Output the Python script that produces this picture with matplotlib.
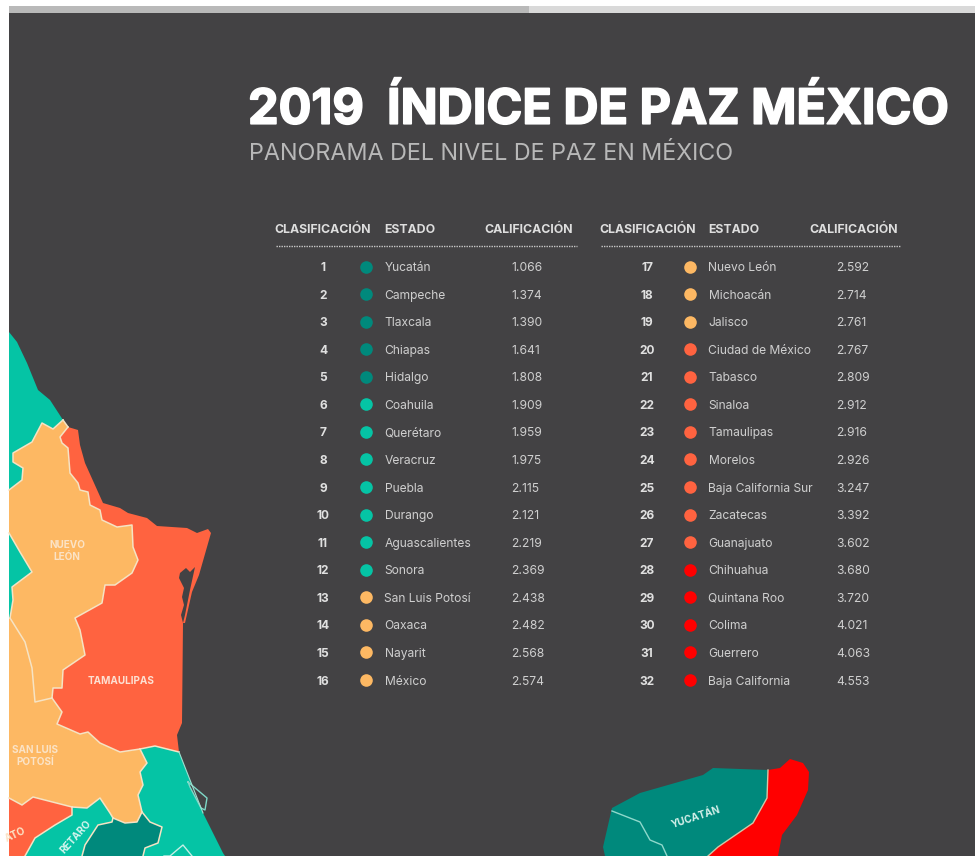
import matplotlib
matplotlib.use("Agg")
import matplotlib.pyplot as plt
import matplotlib.patheffects as pe
from matplotlib.patches import Polygon, Rectangle

# ---- data ----
TITLE = "2019  ÍNDICE DE PAZ MÉXICO"
SUBTITLE = "PANORAMA DEL NIVEL DE PAZ EN MÉXICO"
HEADERS = ["CLASIFICACIÓN", "ESTADO", "CALIFICACIÓN"]
ranks = list(range(1, 33))
states = ["Yucatán", "Campeche", "Tlaxcala", "Chiapas", "Hidalgo", "Coahuila", "Querétaro", "Veracruz",
          "Puebla", "Durango", "Aguascalientes", "Sonora", "San Luis Potosí", "Oaxaca", "Nayarit", "México",
          "Nuevo León", "Michoacán", "Jalisco", "Ciudad de México", "Tabasco", "Sinaloa", "Tamaulipas", "Morelos",
          "Baja California Sur", "Zacatecas", "Guanajuato", "Chihuahua", "Quintana Roo", "Colima", "Guerrero",
          "Baja California"]
scores = ["1.066", "1.374", "1.390", "1.641", "1.808", "1.909", "1.959", "1.975",
          "2.115", "2.121", "2.219", "2.369", "2.438", "2.482", "2.568", "2.574",
          "2.592", "2.714", "2.761", "2.767", "2.809", "2.912", "2.916", "2.926",
          "3.247", "3.392", "3.602", "3.680", "3.720", "4.021", "4.063", "4.553"]
levels = [0]*5 + [1]*7 + [2]*7 + [3]*8 + [4]*5

BG = "#434244"
LEVEL_COLORS = ["#00897c", "#05c4a5", "#fdb863", "#ff6340", "#ff0000"]
BORDER = "#f6e3c4"
TXT = "#cfcfcf"

# map outlines (decorative geography, in image pixels)
nl_tam = [(68,427),(60,437),(62,443),(68,448),(70,473),(78,483),(80,490),(88,492),(90,505),(100,510),(102,520),
          (117,527),(132,525),(133,547),(138,560),(132,573),(115,585),(105,585),(102,603),(75,618),(80,630),(85,655),
          (63,670),(62,688),(53,688),(52,698)]
tam_slp = [(52,698),(62,712),(57,724),(80,734),(88,732),(100,743),(120,752),(140,749)]
tam_ver = [(140,749),(155,746),(179,752)]
tam_coast = [(179,752),(177,735),(182,723),(183,623),(185,623),(192,592),(199,575),(211,533),(208,529),(197,533),
             (187,528),(157,526),(147,518),(128,513),(120,508),(103,503),(85,463),(80,445),(78,430),(68,427)]
slp_ver = [(140,749),(147,763),(140,772),(143,785),(138,795),(142,812)]
slp_hid = [(142,812),(137,822),(125,823),(113,818)]
slp_que = [(113,818),(110,813),(100,798),(87,808),(72,807)]
slp_gto = [(72,807),(33,797),(22,805),(9,798)]
nl_slp = [(52,698),(35,702),(32,668),(25,642),(10,618)]
coa_top = [(9,332),(17,342),(27,363),(38,390),(50,400),(63,420)]
coa_nl = [(63,420),(53,429),(42,423),(32,442),(13,453),(13,462),(23,468),(22,480),(9,490)]
wedge = [(9,533),(20,552),(32,572),(12,587),(13,600),(10,618),(9,618)]
que_gto = [(72,807),(72,815),(55,825),(35,838),(25,856)]
que_hid = [(113,818),(112,822),(98,825),(85,845),(82,856)]
hid_ver = [(142,812),(150,822),(162,827),(158,843),(145,848),(143,856)]
ver_coast = [(179,752),(203,813),(223,853),(225,856)]
lagoon = [(180,573),(186,568),(190,572),(195,567),(190,590),(185,615),(183,623),(181,615),(184,605),(182,597),(184,588),(179,578)]
island = [(188,782),(207,798),(205,810),(201,808),(190,787)]
puebla = [(164,856),(170,856),(177,850),(183,845),(192,856)]
yuc_top = [(612,808),(640,793),(703,775),(713,768),(768,770)]
yuc_qr = [(768,770),(767,798),(753,823),(718,847),(708,856)]
cam_yuc = [(612,811),(640,822),(650,840),(662,845),(667,856)]
cam_west = [(612,808),(603,847),(605,856)]
qr_east = [(768,770),(780,768),(790,759),(803,763),(809,772),(808,790),(797,815),(782,835),(778,856)]

# ---- figure ----
plt.rcParams["font.family"] = ["Inter", "DejaVu Sans"]
fig = plt.figure(figsize=(9.75, 8.56), dpi=100, facecolor="white")
ax = fig.add_axes([0, 0, 1, 1])
ax.set_xlim(0, 975)
ax.set_ylim(856, 0)
ax.axis("off")

ax.add_patch(Rectangle((9, 13), 966, 843, fc=BG, ec="none", zorder=0))
ax.add_patch(Rectangle((9, 6), 520, 7, fc="#b9b9b9", ec="none", zorder=1))
ax.add_patch(Rectangle((529, 6), 446, 7, fc="#d9d9d9", ec="none", zorder=1))


def poly(color, *segs, z=2):
    pts = [p for s in segs for p in s]
    ax.add_patch(Polygon(pts, closed=True, fc=color, ec="none", zorder=z))


def line(seg, color=BORDER, lw=1.1, z=4):
    xs, ys = zip(*seg)
    ax.plot(xs, ys, color=color, lw=lw, zorder=z, solid_joinstyle="round", clip_on=True)


TEAL, DTEAL, ORANGE, RORANGE, RED = LEVEL_COLORS[1], LEVEL_COLORS[0], LEVEL_COLORS[2], LEVEL_COLORS[3], LEVEL_COLORS[4]

poly(TEAL, coa_top, coa_nl)
poly(ORANGE, coa_nl[::-1], [(63,420), (68,427)], nl_tam, tam_slp, slp_ver, slp_hid, slp_que, slp_gto, [(9,798)])
poly(TEAL, wedge)
poly(RORANGE, nl_tam, tam_slp, tam_ver, tam_coast)
poly(BG, lagoon, z=3)
poly(RORANGE, slp_gto[::-1], que_gto[1:], [(9,856)])
poly(TEAL, slp_que, que_gto, que_hid[::-1])
poly(DTEAL, slp_hid[::-1], hid_ver, que_hid[::-1])
poly(TEAL, tam_ver, ver_coast, [(143,856)], hid_ver[::-1], slp_ver[::-1])
poly(BG, island, z=3)
poly(DTEAL, yuc_top, yuc_qr, cam_west[::-1])
poly(RED, qr_east, yuc_qr[::-1])

for s in (nl_tam, tam_slp, tam_ver, slp_ver, slp_hid, slp_que, slp_gto, nl_slp, coa_nl, wedge[:-1],
          que_gto, que_hid, hid_ver):
    line(s)
line([(63,420), (68,427)])
line(island + island[:1], color="#7fd8c8", lw=1)
line(puebla, color="#c5efe5", lw=1)
line(cam_yuc, color="#8fd9cc", lw=1)
line(yuc_qr, color="#cfc9a8", lw=1)
line(ver_coast[:2], color="#9fe0d0", lw=0.8)

# map labels
LBL = "#fbe3c6"
LS = 7.2
ax.text(67, 551, "NUEVO\nLEÓN", color=LBL, fontsize=LS, fontweight="bold", ha="center", va="center", linespacing=1.25, zorder=5)
ax.text(121, 681, "TAMAULIPAS", color="#fde0d2", fontsize=LS, fontweight="bold", ha="center", va="center", zorder=5)
ax.text(35, 756, "SAN LUIS\nPOTOSÍ", color=LBL, fontsize=LS, fontweight="bold", ha="center", va="center", linespacing=1.25, zorder=5)
ax.text(696, 817, "YUCATÁN", color="#d5f0ea", fontsize=LS, fontweight="bold", ha="center", va="center", rotation=18, rotation_mode="anchor", zorder=5)
ax.text(89, 822, "RETARO", color="#d5f5ee", fontsize=LS, fontweight="bold", ha="right", va="center", rotation=48, rotation_mode="anchor", zorder=5)
ax.text(25, 830, "ATO", color=LBL, fontsize=LS, fontweight="bold", ha="right", va="center", rotation=25, rotation_mode="anchor", zorder=5)

# titles
ax.text(248, 110.5, TITLE, color="white", fontsize=35, fontweight="bold", ha="left", va="center", zorder=5,
        path_effects=[pe.withStroke(linewidth=1.2, foreground="white")])
ax.text(249, 154, SUBTITLE, color="#b8b8b8", fontsize=16.8, fontweight="normal", ha="left", va="center", zorder=5)

# table
ROW_Y0, ROW_DY = 268, 27.57
COLS = [dict(rank=323, dot=366, name=384.5, score=511, head=(274, 384.5, 484), rule=(276, 577)),
        dict(rank=647, dot=690, name=708.5, score=836, head=(599, 708.5, 809), rule=(601, 901))]
for k, c in enumerate(COLS):
    for h, x in zip(HEADERS, c["head"]):
        ax.text(x, 230, h, color="#dedede", fontsize=8.85, fontweight="bold", ha="left", va="center", zorder=5)
    ax.plot(c["rule"], [246, 246], color="#c8c8c8", lw=1, ls=(0, (1, 0.8)), zorder=5)
    for i in range(16):
        j = k * 16 + i
        y = ROW_Y0 + i * ROW_DY
        ax.text(c["rank"], y, str(ranks[j]), color="#e0e0e0", fontsize=8.6, fontweight="bold", ha="center", va="center", zorder=5)
        ax.scatter([c["dot"]], [y - 1.5], s=82, color=LEVEL_COLORS[levels[j]], linewidths=0, zorder=5)
        ax.text(c["name"], y, states[j], color=TXT, fontsize=8.7, ha="left", va="center", zorder=5)
        ax.text(c["score"], y, scores[j], color=TXT, fontsize=8.7, ha="left", va="center", zorder=5)

fig.savefig("out.png", dpi=100, facecolor="white")
